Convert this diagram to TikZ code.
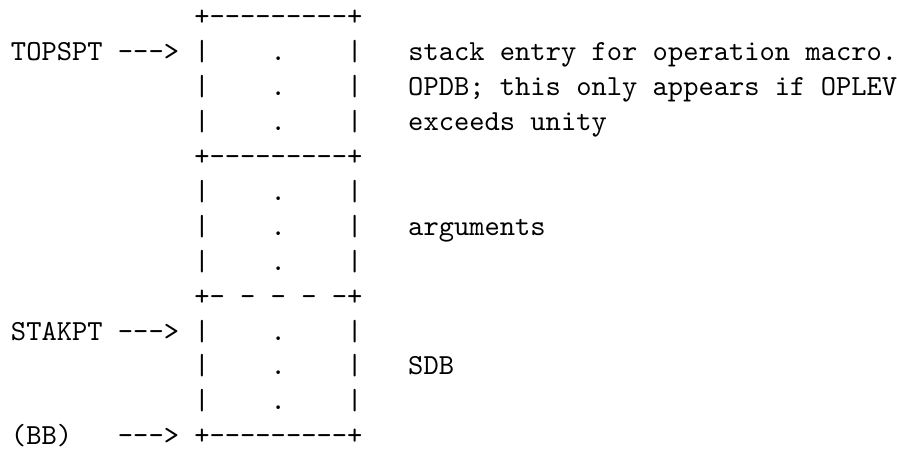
\documentclass[tikz,border=0pt]{standalone}
\begin{document}
\begin{tikzpicture}[x=0.3436pt,y=-0.3436pt,
  ln/.style={anchor=base west,inner sep=0pt,outer sep=0pt,font=\ttfamily}]
\useasboundingbox (0,0) rectangle (897,451);
\def\S{~~~~~~~~~~~~}
\def\B{34.9}
\node[ln] (l0)  at (11,26)          {\S+-{}-{}-{}-{}-{}-{}-{}-{}-+};
\node[ln] (l1)  at (11,26+1*\B)     {TOPSPT~-{}-{}->~|~~~~.~~~~|~~~stack~entry~for~operation~macro.};
\node[ln] (l2)  at (11,26+2*\B)     {\S|~~~~.~~~~|~~~OPDB;~this~only~appears~if~OPLEV};
\node[ln] (l3)  at (11,26+3*\B)     {\S|~~~~.~~~~|~~~exceeds~unity};
\node[ln] (l4)  at (11,26+4*\B)     {\S+-{}-{}-{}-{}-{}-{}-{}-{}-+};
\node[ln] (l5)  at (11,26+5*\B)     {\S|~~~~.~~~~|};
\node[ln] (l6)  at (11,26+6*\B)     {\S|~~~~.~~~~|~~~arguments};
\node[ln] (l7)  at (11,26+7*\B)     {\S|~~~~.~~~~|};
\node[ln] (l8)  at (11,26+8*\B)     {\S+-~-~-~-~-+};
\node[ln] (l9)  at (11,26+9*\B)     {STAKPT~-{}-{}->~|~~~~.~~~~|};
\node[ln] (l10) at (11,26+10*\B)    {\S|~~~~.~~~~|~~~SDB};
\node[ln] (l11) at (11,26+11*\B)    {\S|~~~~.~~~~|};
\node[ln] (l12) at (11,26+12*\B)    {(BB)~~~-{}-{}->~+-{}-{}-{}-{}-{}-{}-{}-{}-+};
\end{tikzpicture}
\end{document}
